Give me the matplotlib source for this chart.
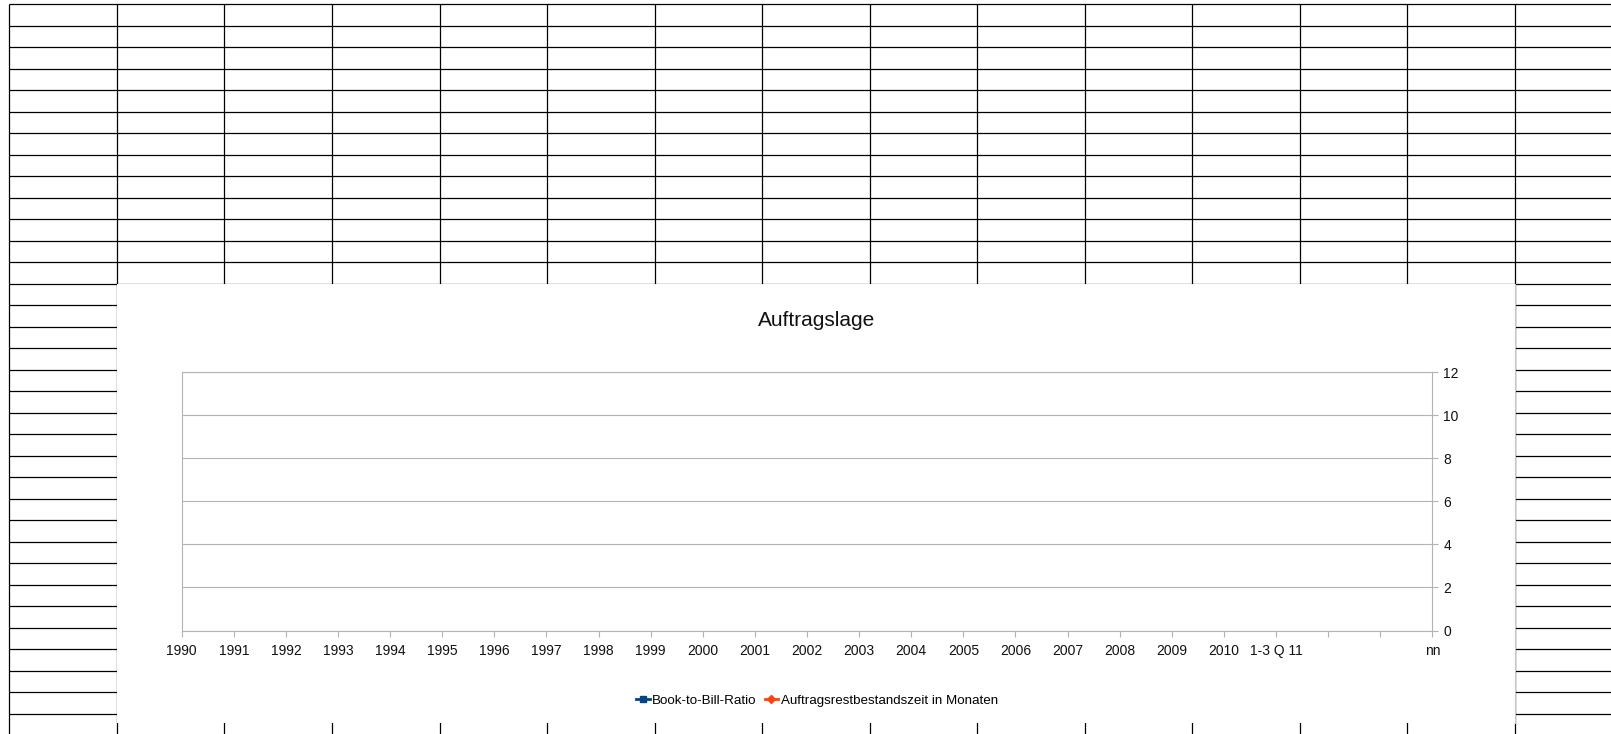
import matplotlib
matplotlib.use("Agg")
import matplotlib.pyplot as plt
import numpy as np

plt.rcParams['font.family'] = ['Liberation Sans', 'DejaVu Sans']

# ---- data ----
title = "Auftragslage"
categories = ["1990", "1991", "1992", "1993", "1994", "1995", "1996", "1997",
              "1998", "1999", "2000", "2001", "2002", "2003", "2004", "2005",
              "2006", "2007", "2008", "2009", "2010", "1-3 Q 11", "", "", "nn"]
series_names = ["Book-to-Bill-Ratio", "Auftragsrestbestandszeit in Monaten"]
book_to_bill = []          # no values shown in the chart
restbestandszeit = []      # no values shown in the chart
y_ticks = [0, 2, 4, 6, 8, 10, 12]

W, H, DPI = 1611, 734, 100
fig = plt.figure(figsize=(W / DPI, H / DPI), dpi=DPI)

# ---- spreadsheet background ----
bg = fig.add_axes([0, 0, 1, 1])
bg.set_xlim(0, W)
bg.set_ylim(H, 0)
bg.axis('off')
col_x0, col_w = 9.3, 107.55
row_y0, row_h = 4.3, 21.5
cols = [col_x0 + k * col_w for k in range(15)]
rows = [row_y0 + k * row_h for k in range(34)]
lw = 0.9
for x in cols:
    bg.plot([x, x], [row_y0, H], color='black', lw=lw, solid_capstyle='butt')
for y in rows:
    bg.plot([col_x0, W], [y, y], color='black', lw=lw, solid_capstyle='butt')

# chart area (white box)
cx0, cy0, cx1, cy1 = 117.3, 284.2, 1515.0, 722.8
bg.add_patch(plt.Rectangle((cx0, cy0), cx1 - cx0, cy1 - cy0, facecolor='white',
                           edgecolor='none', zorder=5))
bg.plot([cx1, cx1], [cy0, cy1], color='#c8c8c8', lw=0.8, zorder=6)

# ---- chart ----
px0, py0, px1, py1 = 181.7, 372.3, 1432.3, 630.5
ax = fig.add_axes([px0 / W, 1 - py1 / H, (px1 - px0) / W, (py1 - py0) / H])
ax.set_facecolor('none')
x = np.arange(len(categories))
ax.plot(x[:len(book_to_bill)], book_to_bill, color='#004586', marker='s',
        markersize=5, lw=2, label=series_names[0])
ax.plot(x[:len(restbestandszeit)], restbestandszeit, color='#ff420e', marker='D',
        markersize=4, lw=2, label=series_names[1])
ax.set_xlim(0, len(categories) - 1)
ax.set_ylim(0, 12)
ax.set_xticks(x)
ax.set_xticklabels(categories)
ax.set_yticks(y_ticks)
ax.yaxis.tick_right()
ax.grid(axis='y', color='#b3b3b3', lw=0.8)
ax.set_axisbelow(True)
for s in ax.spines.values():
    s.set_color('#b3b3b3')
    s.set_linewidth(0.8)
ax.tick_params(axis='both', colors='#b3b3b3', labelcolor='#111111', length=4.5,
               width=0.8, labelsize=10, direction='out')
ax.tick_params(axis='x', pad=5.5)
ax.tick_params(axis='y', pad=3.5)

fig.text((cx0 + cx1) / 2 / W, 1 - 320 / H, title, ha='center', va='center',
         fontsize=15, color='#111111')

fig.legend(loc='center', bbox_to_anchor=(817 / W, 1 - 700.5 / H), ncol=2,
           frameon=False, fontsize=9.6, handlelength=1.0, handletextpad=0.2,
           columnspacing=0.6, borderpad=0)

fig.savefig('out.png', dpi=DPI)
